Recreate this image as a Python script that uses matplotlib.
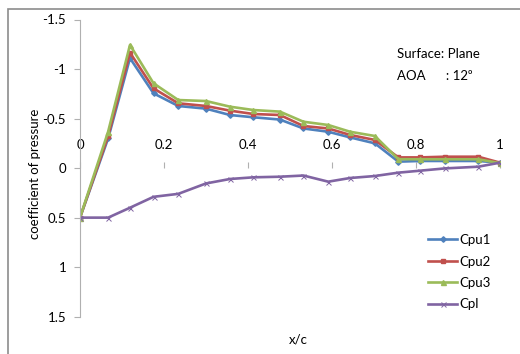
import matplotlib.pyplot as plt
from matplotlib.patches import Rectangle

plt.rcParams['font.family'] = ['Lato', 'DejaVu Sans']

# chordwise stations and pressure coefficients
x_c = [0, 0.067, 0.119, 0.175, 0.234, 0.30, 0.357, 0.413, 0.476, 0.532,
       0.591, 0.643, 0.702, 0.758, 0.81, 0.869, 0.948, 1.0]
cpu1 = [0.5, -0.30, -1.11, -0.755, -0.627, -0.60, -0.536, -0.513, -0.49, -0.40,
        -0.367, -0.31, -0.25, -0.065, -0.072, -0.072, -0.072, -0.055]
cpu2 = [0.5, -0.324, -1.165, -0.805, -0.654, -0.627, -0.58, -0.546, -0.536, -0.425,
        -0.40, -0.335, -0.284, -0.108, -0.108, -0.115, -0.115, -0.055]
cpu3 = [0.5, -0.368, -1.243, -0.856, -0.687, -0.677, -0.62, -0.586, -0.57, -0.468,
        -0.435, -0.367, -0.324, -0.09, -0.089, -0.089, -0.089, -0.05]
cpl = [0.5, 0.5, 0.40, 0.29, 0.26, 0.155, 0.11, 0.093, 0.087, 0.075,
       0.137, 0.10, 0.08, 0.046, 0.026, 0.003, -0.014, -0.055]

y_ticks = [-1.5, -1, -0.5, 0, 0.5, 1, 1.5]
x_ticks = [0, 0.2, 0.4, 0.6, 0.8, 1]

W, H = 520, 354
fig = plt.figure(figsize=(W / 100, H / 100), dpi=100)
ax = fig.add_axes([80 / W, 1 - 316.7 / H, 420 / W, (316.7 - 19.5) / H])

ax.plot(x_c, cpu1, color='#4F81BD', lw=1.9, marker='D', ms=2.8, label='Cpu1')
ax.plot(x_c, cpu2, color='#C0504D', lw=1.9, marker='s', ms=3.2, label='Cpu2')
ax.plot(x_c, cpu3, color='#9BBB59', lw=1.9, marker='^', ms=3.6, label='Cpu3')
ax.plot(x_c, cpl, color='#8064A2', lw=1.9, marker='x', ms=3.6, mew=0.7, label='Cpl')

ax.set_xlim(0, 1)
ax.set_ylim(1.5, -1.5)

# y axis: light grey line with outward ticks
for s in ['right', 'bottom']:
    ax.spines[s].set_visible(False)
ax.spines['left'].set_color('#b0b0b0')
ax.set_yticks(y_ticks)
ax.set_yticklabels(['%g' % v for v in y_ticks])
ax.tick_params(axis='y', length=4, color='#b0b0b0', labelsize=9.5, pad=6)

# x axis sits at Cp = 0, labels above it
ax.xaxis.tick_top()
ax.spines['top'].set_position(('data', 0))
ax.spines['top'].set_visible(False)
ax.set_xticks(x_ticks)
ax.set_xticklabels(['%g' % v for v in x_ticks])
ax.tick_params(axis='x', length=4, color='#b0b0b0', labelsize=9.5, pad=8)

fig.text(35 / W, 1 - 174 / H, 'coefficient of pressure', rotation=90,
         ha='center', va='center', fontsize=9.5)
fig.text(298 / W, 1 - 340 / H, 'x/c', ha='center', va='center', fontsize=9.5)
fig.text(397 / W, 1 - 54 / H, 'Surface: Plane', ha='left', va='center', fontsize=9.5)
fig.text(397 / W, 1 - 76 / H, 'AOA      : 12⁰', ha='left', va='center', fontsize=9.5)

ax.legend(loc='upper left', bbox_to_anchor=(428 / W, 1 - 234 / H),
          bbox_transform=fig.transFigure, frameon=False, fontsize=9.5,
          handlelength=2.2, handletextpad=0.2, labelspacing=0.72,
          borderpad=0, borderaxespad=0)

# outer chart frame
fig.patches.append(Rectangle((8 / W, -0.05), 1.1, 1 - 9 / H + 0.05,
                             transform=fig.transFigure, fill=False,
                             edgecolor='#8c8c8c', lw=1.2))

fig.savefig('out.png', dpi=100)
